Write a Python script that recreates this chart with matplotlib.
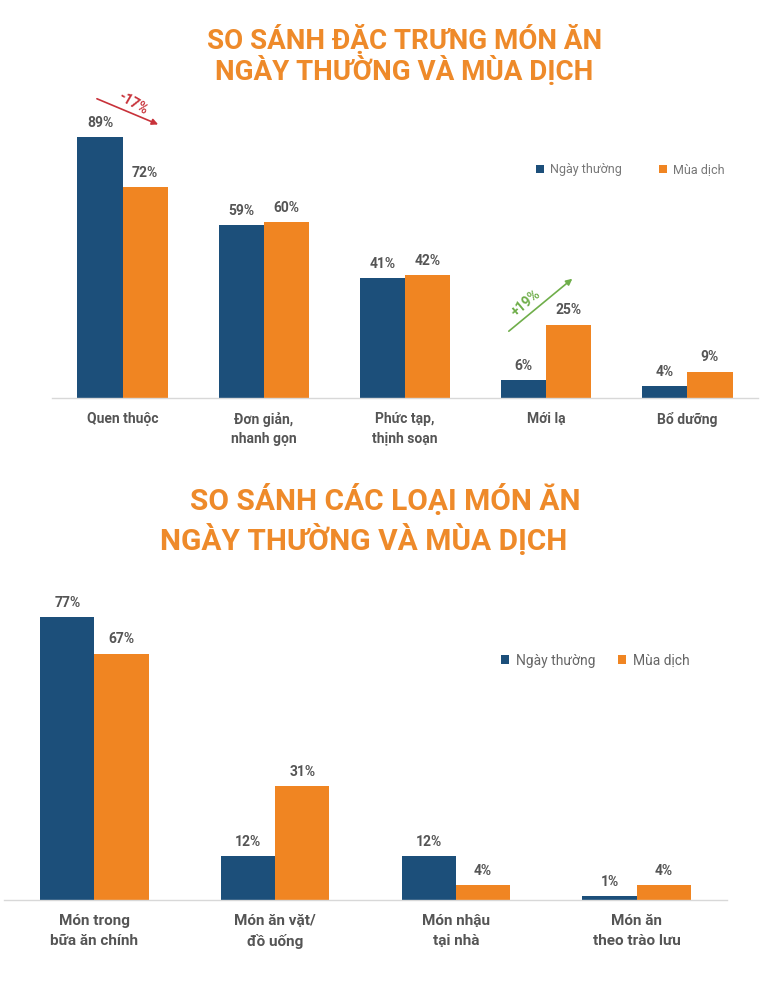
import numpy as np
import matplotlib
matplotlib.use("Agg")
import matplotlib.pyplot as plt

# ---- DATA

top_categories = ["Quen thuộc", "Đơn giản,\nnhanh gọn", "Phức tạp,\nthịnh soạn", "Mới lạ", "Bổ dưỡng"]
top_normal = [89, 59, 41, 6, 4]
top_covid = [72, 60, 42, 25, 9]

bottom_categories = ["Món trong\nbữa ăn chính", "Món ăn vặt/\nđồ uống", "Món nhậu\ntại nhà", "Món ăn\ntheo trào lưu"]
bottom_normal = [77, 12, 12, 1]
bottom_covid = [67, 31, 4, 4]

series_names = ["Ngày thường", "Mùa dịch"]

# ---- STYLE

NAVY = "#1c4f7a"
ORANGE = "#f08522"
TITLE = "#ee8a2a"
TEXT = "#555555"
plt.rcParams["font.family"] = ["Roboto", "DejaVu Sans"]


def draw_panel(ax, cats, normal, covid, width, ymax, label_size, spacing):
    """ Draws one grouped bar panel. """
    x = np.arange(len(cats))
    b1 = ax.bar(x - width / 2, normal, width, color=NAVY, label=series_names[0])
    b2 = ax.bar(x + width / 2, covid, width, color=ORANGE, label=series_names[1])
    for bars in (b1, b2):
        for rect in bars:
            h = rect.get_height()
            ax.text(rect.get_x() + rect.get_width() / 2, h + ymax * 0.025,
                    f"{h:.0f}%", ha="center", va="bottom",
                    fontsize=10, fontweight="bold", color=TEXT)
    ax.set_xlim(-0.5, len(cats) - 0.5)
    ax.set_ylim(0, ymax)
    ax.set_xticks(x)
    ax.set_xticklabels(cats, fontsize=label_size, fontweight="bold",
                       color=TEXT, linespacing=spacing)
    ax.tick_params(axis="x", length=0, pad=10)
    ax.set_yticks([])
    for s in ("top", "right", "left"):
        ax.spines[s].set_visible(False)
    ax.spines["bottom"].set_color("#d8d8d8")
    ax.spines["bottom"].set_linewidth(1.0)
    return x


fig = plt.figure(figsize=(7.7, 10), dpi=100)

# top panel
ax1 = fig.add_axes([52 / 770, 0.602, 706 / 770, 0.293])
x1 = draw_panel(ax1, top_categories, top_normal, top_covid, 0.32, 100, 10, 1.45)
leg1 = ax1.legend(loc="upper left", bbox_to_anchor=(0.67, 0.84), ncol=2,
                  frameon=False, fontsize=9, handlelength=0.6, handleheight=0.6,
                  columnspacing=3.0, handletextpad=0.5)
for t in leg1.get_texts():
    t.set_color("#777777")

# trend arrows
ax1.annotate("", xy=(0.27, 93), xytext=(-0.2, 102.5),
             arrowprops=dict(arrowstyle="-|>", color="#c8323a", lw=1.2,
                             mutation_scale=9), annotation_clip=False)
ax1.text(0.07, 100.5, "-17%", rotation=-30, ha="center", va="center",
         fontsize=10, fontweight="bold", color="#c8323a", clip_on=False)
ax1.annotate("", xy=(3.2, 41.3), xytext=(2.72, 22.2),
             arrowprops=dict(arrowstyle="-|>", color="#6fae4a", lw=1.2,
                             mutation_scale=9))
ax1.text(2.86, 32.5, "+19%", rotation=40, ha="center", va="center",
         fontsize=10, fontweight="bold", color="#6fae4a")

fig.text(0.525, 0.96, "SO SÁNH ĐẶC TRƯNG MÓN ĂN", ha="center", va="center",
         fontsize=20, fontweight="bold", color=TITLE)
fig.text(0.525, 0.929, "NGÀY THƯỜNG VÀ MÙA DỊCH", ha="center", va="center",
         fontsize=20, fontweight="bold", color=TITLE)

# bottom panel
ax2 = fig.add_axes([4 / 770, 0.1, 723 / 770, 0.294])
x2 = draw_panel(ax2, bottom_categories, bottom_normal, bottom_covid, 0.30, 80, 11, 1.55)
leg2 = ax2.legend(loc="upper left", bbox_to_anchor=(0.67, 0.88), ncol=2,
                  frameon=False, fontsize=10, handlelength=0.6, handleheight=0.6,
                  columnspacing=1.6, handletextpad=0.5)
for t in leg2.get_texts():
    t.set_color("#666666")

fig.text(0.5, 0.5, "SO SÁNH CÁC LOẠI MÓN ĂN", ha="center", va="center",
         fontsize=21.5, fontweight="bold", color=TITLE)
fig.text(0.472, 0.46, "NGÀY THƯỜNG VÀ MÙA DỊCH", ha="center", va="center",
         fontsize=21.5, fontweight="bold", color=TITLE)

fig.savefig("out.png", dpi=100, facecolor="white")
